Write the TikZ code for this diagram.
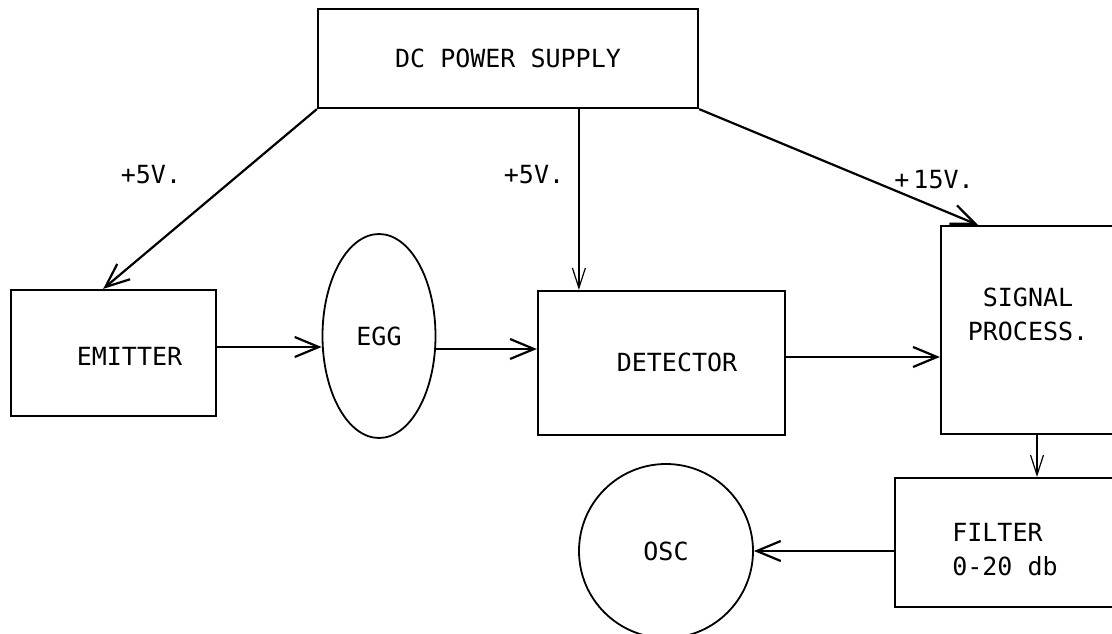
\documentclass[tikz,border=0pt]{standalone}
\usepackage{fontspec}
\setmonofont{DejaVu Sans Mono}
\usetikzlibrary{arrows.meta,positioning,calc,shapes.geometric}

\begin{document}
\begin{tikzpicture}[
  x=1pt, y=-1pt,
  font=\ttfamily\fontsize{25}{34}\selectfont,
  >={Straight Barb[length=24pt,width=20pt]},
  blk/.style 2 args={draw, line width=2.2pt, minimum width=#1, minimum height=#2,
                     inner sep=0pt, align=center},
  egg/.style={draw, ellipse, line width=1.8pt, minimum width=113pt, minimum height=204pt,
              inner sep=0pt},
  osc/.style={draw, circle, line width=1.8pt, minimum size=174pt, inner sep=0pt},
  txt/.style={inner sep=0pt, align=center},
  lbl/.style={inner sep=0pt},
  wire/.style={line width=2.2pt},
  thinwire/.style={line width=1.2pt, >={Straight Barb[length=20pt,width=13pt]}},
]
\useasboundingbox (0,0) rectangle (1112,634);
\clip (0,0) rectangle (1112,634);

% ---- blocks ----
\node[blk={380pt}{99pt}] (dc) at (508,58.5) {DC POWER SUPPLY};
\node[blk={205pt}{126pt}] (emit) at (113.5,353) {};
\node[txt] (emit-t) at (129.5,356) {EMITTER};
\node[egg] (egg) at (379,336) {EGG};
\node[blk={247pt}{144pt}] (det) at (661.5,363) {};
\node[txt] (det-t) at (677,362) {DETECTOR};
\node[blk={174pt}{208pt}] (sig) at (1028,330) {};
\node[txt] (sig-t) at (1028,314) {SIGNAL\\PROCESS.};
\node[blk={220pt}{129pt}] (filt) at (1005,542.5) {};
\node[txt, align=left] (filt-t) at (1005,550) {FILTER\\0-20 db};
\node[osc] (osc) at (666,551) {OSC};

% ---- supply voltages ----
\node[lbl] (v-emit) at (151,175) {+5V.};
\node[lbl] (v-det) at (534,175) {+5V.};
\node[lbl] (v-sig) at (934,180) {+\,15V.};

% ---- supply edges ----
\coordinate (emit-in) at ($(emit.north west)!0.45!(emit.north east)$);
\coordinate (det-in) at ($(det.north west)+(42,0)$);
\coordinate (sig-in) at ($(sig.north west)+(38,0)$);
\draw[wire,->] (dc.south west) -- (emit-in);
\draw[thinwire,->] (det-in |- dc.south) -- (det-in);
\draw[wire,->] (dc.south east) -- (sig-in);

% ---- signal chain ----
\draw[wire,->] ([yshift=6pt]emit.east) -- ([yshift=6pt]emit.east -| egg.west);
\draw[wire,->] ([yshift=-13pt]egg.east) -- ([yshift=-13pt]egg.east -| det.west);
\draw[wire,->] ([yshift=6pt]det.east) -- ([yshift=6pt]det.east -| sig.west);
\draw[thinwire,->] ([xshift=9pt]sig.south) -- ([xshift=9pt]sig.south |- filt.north);
\draw[wire,->] (filt.west |- osc.east) -- (osc.east);

\end{tikzpicture}
\end{document}
